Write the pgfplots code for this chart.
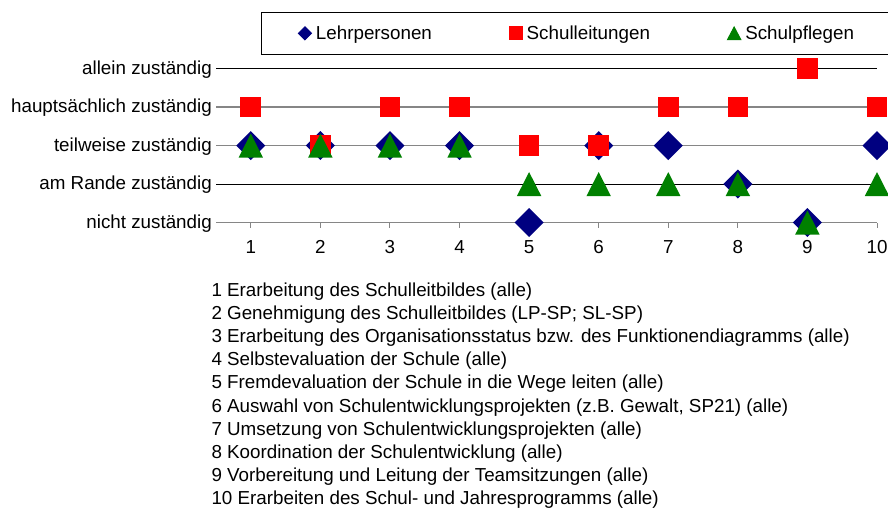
\documentclass[border=0pt]{standalone}
\usepackage{fontspec}
\setmainfont{Liberation Sans}
\usepackage{pgfplots}
\pgfplotsset{compat=1.18}
\definecolor{lpnavy}{HTML}{000080}
\definecolor{slred}{HTML}{FF0000}
\definecolor{spgreen}{HTML}{008000}
\definecolor{gridgray}{HTML}{868686}
\newcommand{\chfont}{\fontsize{18.8bp}{22bp}\selectfont}
\pgfdeclareplotmark{xdia}{\pgfpathmoveto{\pgfqpoint{0bp}{14.5bp}}\pgfpathlineto{\pgfqpoint{14.5bp}{0bp}}\pgfpathlineto{\pgfqpoint{0bp}{-14.5bp}}\pgfpathlineto{\pgfqpoint{-14.5bp}{0bp}}\pgfpathclose\pgfusepathqfill}
\pgfdeclareplotmark{xsq}{\pgfpathrectangle{\pgfqpoint{-10.3bp}{-10.3bp}}{\pgfqpoint{20.6bp}{20.6bp}}\pgfusepathqfill}
\pgfdeclareplotmark{xtri}{\pgfpathmoveto{\pgfqpoint{0bp}{12bp}}\pgfpathlineto{\pgfqpoint{12.2bp}{-12bp}}\pgfpathlineto{\pgfqpoint{-12.2bp}{-12bp}}\pgfpathclose\pgfusepathqfill}
\begin{document}
\begin{tikzpicture}
\begin{axis}[
  at={(216bp,-222.5bp)}, anchor=south west,
  scale only axis, width=661bp, height=153.8bp,
  xmin=0.5, xmax=10, ymin=1, ymax=5,
  clip=false,
  axis line style={draw=none},
  xtick={1,...,10}, xtick pos=bottom,
  tick align=outside, major tick length=5bp,
  x tick style={gridgray, line width=1bp},
  ytick style={draw=none},
  ytick={1,3,4},
  yticklabels={nicht zuständig, teilweise zuständig, hauptsächlich zuständig},
  extra y ticks={2,5},
  extra y tick labels={am Rande zuständig, allein zuständig},
  extra y tick style={grid style={black, line width=1bp}},
  ymajorgrids,
  grid style={gridgray, line width=1.5bp},
  /pgf/number format/assume math mode=true,
  tick label style={font=\chfont},
  xticklabel style={inner sep=0pt, anchor=north, yshift=-13bp},
  yticklabel style={inner sep=0pt, anchor=base east, xshift=1bp, yshift=-5.8bp},
  legend columns=3,
  legend style={at={(0.068,1.3687)}, anchor=north west, draw=black, line width=1bp,
    font=\chfont, inner xsep=36.5bp, inner ysep=13.85bp,
    column sep=4bp,
    /tikz/every even column/.append style={column sep=77bp},
    nodes={inner sep=0pt, text height=13.3bp, text depth=0bp, line width=0.4pt}},
]
\addplot[only marks, color=lpnavy, mark=xdia,
  legend image code/.code={\fill (0bp,0bp) -- (6.5bp,6.5bp) -- (13bp,0bp) -- (6.5bp,-6.5bp) -- cycle;}]
  coordinates {(1,3) (2,3) (3,3) (4,3) (5,1) (6,3) (7,3) (8,2) (9,1) (10,3)};
\addlegendentry{Lehrpersonen}
\addplot[only marks, color=slred, mark=xsq,
  legend image code/.code={\fill (0.15bp,-6.35bp) rectangle (12.85bp,6.35bp);}]
  coordinates {(1,4) (2,3) (3,4) (4,4) (5,3) (6,3) (7,4) (8,4) (9,5) (10,4)};
\addlegendentry{Schulleitungen}
\addplot[only marks, color=spgreen, mark=xtri,
  legend image code/.code={\fill (0bp,-6.3bp) -- (13.3bp,-6.3bp) -- (6.65bp,6.3bp) -- cycle;}]
  coordinates {(1,3) (2,3) (3,3) (4,3) (5,2) (6,2) (7,2) (8,2) (9,1) (10,2)};
\addlegendentry{Schulpflegen}
\end{axis}
\foreach \t [count=\i] in {
  {1 Erarbeitung des Schulleitbildes (alle)},
  {2 Genehmigung des Schulleitbildes (LP-SP; SL-SP)},
  {3 Erarbeitung des Organisationsstatus bzw. des Funktionendiagramms (alle)},
  {4 Selbstevaluation der Schule (alle)},
  {5 Fremdevaluation der Schule in die Wege leiten (alle)},
  {6 Auswahl von Schulentwicklungsprojekten (z.B. Gewalt, SP21) (alle)},
  {7 Umsetzung von Schulentwicklungsprojekten (alle)},
  {8 Koordination der Schulentwicklung (alle)},
  {9 Vorbereitung und Leitung der Teamsitzungen (alle)},
  {10 Erarbeiten des Schul- und Jahresprogramms (alle)}}
  \node[anchor=base west, inner sep=0pt, font=\chfont] at (211.3bp,{-296bp-(\i-1)*23.2bp}) {\t};
\pgfresetboundingbox
\path[use as bounding box] (0bp,0bp) rectangle (888bp,-508bp);
\end{tikzpicture}
\end{document}
